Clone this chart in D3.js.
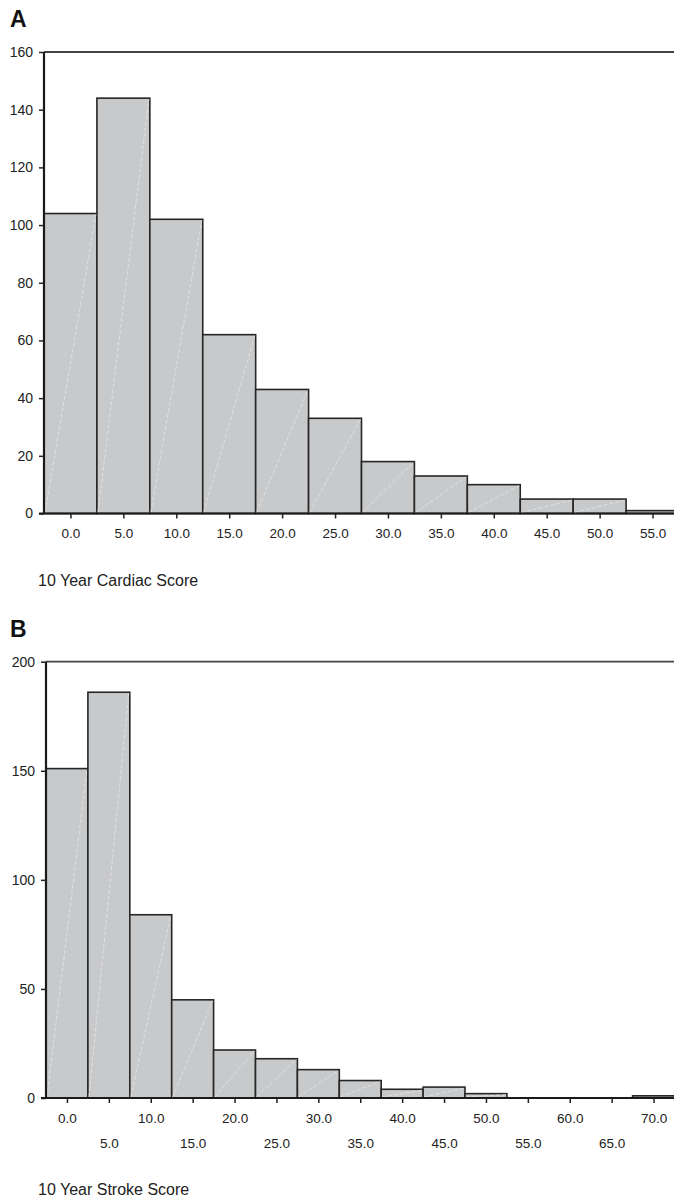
<!DOCTYPE html>
<html>
<head>
<meta charset="utf-8">
<script src="https://cdn.jsdelivr.net/npm/d3@7"></script>
<style>
  html, body { margin: 0; padding: 0; background: #fff; }
  svg { display: block; font-family: "Liberation Sans", Arial, Helvetica, sans-serif; }
</style>
</head>
<body>
<svg id="chart" width="674" height="1201"></svg>
<script>
// ---- Data ----
const cardiacBins = [0, 5, 10, 15, 20, 25, 30, 35, 40, 45, 50, 55];
const cardiacCounts = [104, 144, 102, 62, 43, 33, 18, 13, 10, 5, 5, 1];
const cardiacYTicks = [0, 20, 40, 60, 80, 100, 120, 140, 160];
const cardiacXTicks = [0, 5, 10, 15, 20, 25, 30, 35, 40, 45, 50, 55];

const strokeBins = [0, 5, 10, 15, 20, 25, 30, 35, 40, 45, 50, 55, 60, 65, 70];
const strokeCounts = [151, 186, 84, 45, 22, 18, 13, 8, 4, 5, 2, 0, 0, 0, 1];
const strokeYTicks = [0, 50, 100, 150, 200];
const strokeXTicks = [0, 5, 10, 15, 20, 25, 30, 35, 40, 45, 50, 55, 60, 65, 70];

const binWidth = 5;
const svg = d3.select("#chart");

function drawPanel(o) {
  const g = svg.append("g");
  const x = d3.scaleLinear().domain(o.xDomain).range([o.left, o.right]);
  const y = d3.scaleLinear().domain([0, o.yMax]).range([o.bottom, o.top]);

  // panel letter
  g.append("text").attr("x", 10).attr("y", o.letterY)
    .attr("font-size", 23).attr("font-weight", "bold").attr("fill", "#111")
    .text(o.letter);

  const data = o.bins.map((b, i) => ({ b, v: o.counts[i] }));

  // bars
  g.selectAll("rect.bar").data(data).enter().append("rect")
    .attr("class", "bar")
    .attr("x", d => x(d.b - binWidth / 2))
    .attr("y", d => y(d.v))
    .attr("width", d => x(d.b + binWidth / 2) - x(d.b - binWidth / 2))
    .attr("height", d => y(0) - y(d.v))
    .attr("fill", "#c8c9cb")
    .attr("stroke", "#262626")
    .attr("stroke-width", 1.6);

  // faint diagonal lines inside bars
  g.selectAll("line.diag").data(data.filter(d => d.v > 1)).enter().append("line")
    .attr("x1", d => x(d.b - binWidth / 2) + 1)
    .attr("y1", y(0) - 1)
    .attr("x2", d => x(d.b + binWidth / 2) - 1)
    .attr("y2", d => y(d.v) + 1)
    .attr("stroke", "#e6e6e6")
    .attr("stroke-width", 0.8)
    .attr("stroke-dasharray", "4,2");

  // top border
  g.append("line")
    .attr("x1", o.left).attr("x2", 674)
    .attr("y1", y(o.yMax)).attr("y2", y(o.yMax))
    .attr("stroke", "#444").attr("stroke-width", 1.8);

  // y axis
  const yAxis = d3.axisLeft(y).tickValues(o.yTicks).tickSize(5).tickPadding(6)
    .tickFormat(d3.format("d"));
  const ya = g.append("g").attr("transform", `translate(${o.left},0)`).call(yAxis);
  ya.select(".domain").attr("stroke", "#1a1a1a").attr("stroke-width", 2.2)
    .attr("d", `M0,${y(o.yMax)}V${y(0)}`);
  ya.selectAll(".tick line").attr("stroke", "#222").attr("stroke-width", 1.5);
  ya.selectAll(".tick text").attr("font-size", 14).attr("fill", "#222")
    .attr("font-family", "Liberation Sans, Arial, sans-serif");

  // x axis
  const xAxis = d3.axisBottom(x).tickValues(o.xTicks).tickSize(5).tickPadding(0)
    .tickFormat(d3.format(".1f"));
  const xa = g.append("g").attr("transform", `translate(0,${y(0)})`).call(xAxis);
  xa.select(".domain").attr("stroke", "#1a1a1a").attr("stroke-width", 2.2)
    .attr("d", `M${o.left - 5},0H674`);
  xa.selectAll(".tick line").attr("stroke", "#222").attr("stroke-width", 1.5);
  xa.selectAll(".tick text").attr("font-size", 13.5).attr("fill", "#222")
    .attr("font-family", "Liberation Sans, Arial, sans-serif")
    .attr("dy", null)
    .attr("y", (d, i) => o.twoRows && (d / 5) % 2 === 1 ? o.row2 : o.row1);

  // axis title
  g.append("text").attr("x", 38).attr("y", o.titleY)
    .attr("font-size", 16).attr("fill", "#222")
    .text(o.title);
}

drawPanel({
  letter: "A", letterY: 27,
  bins: cardiacBins, counts: cardiacCounts,
  xDomain: [-2.5, 57.5], left: 44, right: 679,
  yMax: 160, top: 52, bottom: 513.5,
  yTicks: cardiacYTicks, xTicks: cardiacXTicks,
  twoRows: false, row1: 24, row2: 24,
  title: "10 Year Cardiac Score", titleY: 586
});

drawPanel({
  letter: "B", letterY: 637,
  bins: strokeBins, counts: strokeCounts,
  xDomain: [-2.5, 72.5], left: 46, right: 674.5,
  yMax: 200, top: 661.7, bottom: 1098,
  yTicks: strokeYTicks, xTicks: strokeXTicks,
  twoRows: true, row1: 25, row2: 50,
  title: "10 Year Stroke Score", titleY: 1195
});
</script>
</body>
</html>
